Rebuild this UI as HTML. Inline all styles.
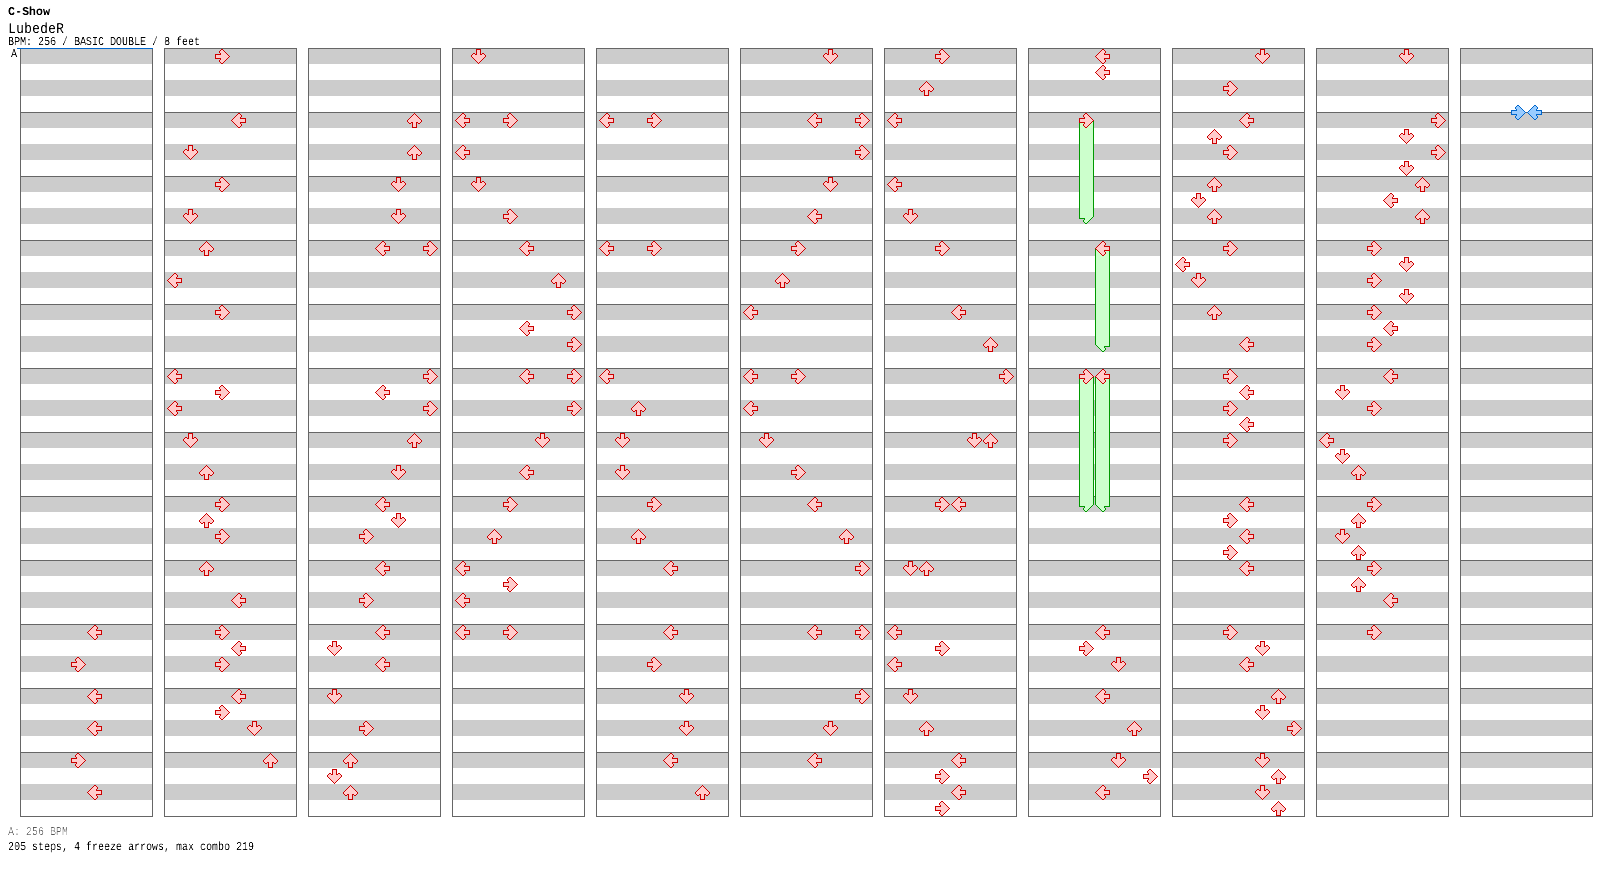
<!DOCTYPE html>
<html><head><meta charset="utf-8"><title>C-Show</title><style>
html,body{margin:0;padding:0;background:#fff;}
body{width:1616px;height:876px;overflow:hidden;position:relative;}
.t{position:absolute;left:0;font-family:"Liberation Mono","DejaVu Sans Mono",monospace;white-space:pre;color:#000;transform-origin:0 0;line-height:1;margin:0;will-change:transform;text-rendering:geometricPrecision;background:#fff;filter:contrast(1.6);}
.t1{font-size:12px;font-weight:bold;top:6px;left:8px;transform:scaleX(0.972);}
.t2{font-size:15px;top:22px;left:8px;transform:scaleX(0.889);}
.t3{font-size:12px;top:36px;left:8px;transform:scaleX(0.8333);}
.t4{font-size:12px;top:48px;left:11px;transform:scaleX(0.8333);}
.t5{font-size:12px;top:826px;left:8px;transform:scaleX(0.8333);color:#666;}
.t6{font-size:12px;top:841px;left:8px;transform:scaleX(0.8333);}
.col{position:absolute;top:48px;width:133px;height:769px;
background:repeating-linear-gradient(to bottom,#666 0 1px,transparent 1px 64px),repeating-linear-gradient(to bottom,#ccc 0 16px,#fff 16px 32px);
box-shadow:inset 0 0 0 1px #666;}
.bl{position:absolute;left:17px;top:48px;width:136px;height:1px;background:#0066cc;}
svg.ov{position:absolute;left:0;top:0;}
</style></head><body>
<div class="t t1">C-Show</div>
<div class="t t2">LubedeR</div>
<div class="t t3">BPM: 256 / BASIC DOUBLE / 8 feet</div>
<div class="col" style="left:20px"></div><div class="col" style="left:164px"></div><div class="col" style="left:308px"></div><div class="col" style="left:452px"></div><div class="col" style="left:596px"></div><div class="col" style="left:740px"></div><div class="col" style="left:884px"></div><div class="col" style="left:1028px"></div><div class="col" style="left:1172px"></div><div class="col" style="left:1316px"></div><div class="col" style="left:1460px"></div>
<div class="bl"></div>
<div class="t t4">A</div>
<svg class="ov" width="1616" height="876" viewBox="0 0 1616 876" shape-rendering="crispEdges"><defs><symbol id="aL" viewBox="0 0 16 16" width="16" height="16"><path fill="#ffcccc" d="M8 2h2v1h-2zM7 3h4v1h-4zM6 4h5v1h-5zM5 5h5v1h-5zM4 6h6v1h-6zM3 7h12v1h-12zM2 8h13v1h-13zM3 9h12v1h-12zM4 10h6v1h-6zM5 11h5v1h-5zM6 12h5v1h-5zM7 13h4v1h-4zM8 14h2v1h-2z"/><path fill="#cc0000" d="M8 1h2v1h-2zM7 2h1v1h-1zM10 2h1v1h-1zM6 3h1v1h-1zM11 3h1v1h-1zM5 4h1v1h-1zM11 4h1v1h-1zM4 5h1v1h-1zM10 5h1v1h-1zM3 6h1v1h-1zM10 6h6v1h-6zM2 7h1v1h-1zM15 7h1v1h-1zM1 8h1v1h-1zM15 8h1v1h-1zM2 9h1v1h-1zM15 9h1v1h-1zM3 10h1v1h-1zM10 10h6v1h-6zM4 11h1v1h-1zM10 11h1v1h-1zM5 12h1v1h-1zM11 12h1v1h-1zM6 13h1v1h-1zM11 13h1v1h-1zM7 14h1v1h-1zM10 14h1v1h-1zM8 15h2v1h-2z"/></symbol><symbol id="aD" viewBox="0 0 16 16" width="16" height="16"><path fill="#ffcccc" d="M7 2h3v1h-3zM7 3h3v1h-3zM7 4h3v1h-3zM7 5h3v1h-3zM3 6h2v1h-2zM7 6h3v1h-3zM12 6h2v1h-2zM2 7h13v1h-13zM2 8h13v1h-13zM3 9h11v1h-11zM4 10h9v1h-9zM5 11h7v1h-7zM6 12h5v1h-5zM7 13h3v1h-3zM8 14h1v1h-1z"/><path fill="#cc0000" d="M6 1h5v1h-5zM6 2h1v1h-1zM10 2h1v1h-1zM6 3h1v1h-1zM10 3h1v1h-1zM6 4h1v1h-1zM10 4h1v1h-1zM3 5h2v1h-2zM6 5h1v1h-1zM10 5h1v1h-1zM12 5h2v1h-2zM2 6h1v1h-1zM5 6h2v1h-2zM10 6h2v1h-2zM14 6h1v1h-1zM1 7h1v1h-1zM15 7h1v1h-1zM1 8h1v1h-1zM15 8h1v1h-1zM2 9h1v1h-1zM14 9h1v1h-1zM3 10h1v1h-1zM13 10h1v1h-1zM4 11h1v1h-1zM12 11h1v1h-1zM5 12h1v1h-1zM11 12h1v1h-1zM6 13h1v1h-1zM10 13h1v1h-1zM7 14h1v1h-1zM9 14h1v1h-1zM8 15h1v1h-1z"/></symbol><symbol id="aU" viewBox="0 0 16 16" width="16" height="16"><path fill="#ffcccc" d="M8 2h1v1h-1zM7 3h3v1h-3zM6 4h5v1h-5zM5 5h7v1h-7zM4 6h9v1h-9zM3 7h11v1h-11zM2 8h13v1h-13zM2 9h13v1h-13zM3 10h2v1h-2zM7 10h3v1h-3zM12 10h2v1h-2zM7 11h3v1h-3zM7 12h3v1h-3zM7 13h3v1h-3zM7 14h3v1h-3z"/><path fill="#cc0000" d="M8 1h1v1h-1zM7 2h1v1h-1zM9 2h1v1h-1zM6 3h1v1h-1zM10 3h1v1h-1zM5 4h1v1h-1zM11 4h1v1h-1zM4 5h1v1h-1zM12 5h1v1h-1zM3 6h1v1h-1zM13 6h1v1h-1zM2 7h1v1h-1zM14 7h1v1h-1zM1 8h1v1h-1zM15 8h1v1h-1zM1 9h1v1h-1zM15 9h1v1h-1zM2 10h1v1h-1zM5 10h2v1h-2zM10 10h2v1h-2zM14 10h1v1h-1zM3 11h2v1h-2zM6 11h1v1h-1zM10 11h1v1h-1zM12 11h2v1h-2zM6 12h1v1h-1zM10 12h1v1h-1zM6 13h1v1h-1zM10 13h1v1h-1zM6 14h1v1h-1zM10 14h1v1h-1zM6 15h5v1h-5z"/></symbol><symbol id="aR" viewBox="0 0 16 16" width="16" height="16"><path fill="#ffcccc" d="M7 2h2v1h-2zM6 3h4v1h-4zM6 4h5v1h-5zM7 5h5v1h-5zM7 6h6v1h-6zM2 7h12v1h-12zM2 8h13v1h-13zM2 9h12v1h-12zM7 10h6v1h-6zM7 11h5v1h-5zM6 12h5v1h-5zM6 13h4v1h-4zM7 14h2v1h-2z"/><path fill="#cc0000" d="M7 1h2v1h-2zM6 2h1v1h-1zM9 2h1v1h-1zM5 3h1v1h-1zM10 3h1v1h-1zM5 4h1v1h-1zM11 4h1v1h-1zM6 5h1v1h-1zM12 5h1v1h-1zM1 6h6v1h-6zM13 6h1v1h-1zM1 7h1v1h-1zM14 7h1v1h-1zM1 8h1v1h-1zM15 8h1v1h-1zM1 9h1v1h-1zM14 9h1v1h-1zM1 10h6v1h-6zM13 10h1v1h-1zM6 11h1v1h-1zM12 11h1v1h-1zM5 12h1v1h-1zM11 12h1v1h-1zM5 13h1v1h-1zM10 13h1v1h-1zM6 14h1v1h-1zM9 14h1v1h-1zM7 15h2v1h-2z"/></symbol><symbol id="bL" viewBox="0 0 16 16" width="16" height="16"><path fill="#99ccff" d="M8 2h2v1h-2zM7 3h4v1h-4zM6 4h5v1h-5zM5 5h5v1h-5zM4 6h6v1h-6zM3 7h12v1h-12zM2 8h13v1h-13zM3 9h12v1h-12zM4 10h6v1h-6zM5 11h5v1h-5zM6 12h5v1h-5zM7 13h4v1h-4zM8 14h2v1h-2z"/><path fill="#0066cc" d="M8 1h2v1h-2zM7 2h1v1h-1zM10 2h1v1h-1zM6 3h1v1h-1zM11 3h1v1h-1zM5 4h1v1h-1zM11 4h1v1h-1zM4 5h1v1h-1zM10 5h1v1h-1zM3 6h1v1h-1zM10 6h6v1h-6zM2 7h1v1h-1zM15 7h1v1h-1zM1 8h1v1h-1zM15 8h1v1h-1zM2 9h1v1h-1zM15 9h1v1h-1zM3 10h1v1h-1zM10 10h6v1h-6zM4 11h1v1h-1zM10 11h1v1h-1zM5 12h1v1h-1zM11 12h1v1h-1zM6 13h1v1h-1zM11 13h1v1h-1zM7 14h1v1h-1zM10 14h1v1h-1zM8 15h2v1h-2z"/></symbol><symbol id="bR" viewBox="0 0 16 16" width="16" height="16"><path fill="#99ccff" d="M7 2h2v1h-2zM6 3h4v1h-4zM6 4h5v1h-5zM7 5h5v1h-5zM7 6h6v1h-6zM2 7h12v1h-12zM2 8h13v1h-13zM2 9h12v1h-12zM7 10h6v1h-6zM7 11h5v1h-5zM6 12h5v1h-5zM6 13h4v1h-4zM7 14h2v1h-2z"/><path fill="#0066cc" d="M7 1h2v1h-2zM6 2h1v1h-1zM9 2h1v1h-1zM5 3h1v1h-1zM10 3h1v1h-1zM5 4h1v1h-1zM11 4h1v1h-1zM6 5h1v1h-1zM12 5h1v1h-1zM1 6h6v1h-6zM13 6h1v1h-1zM1 7h1v1h-1zM14 7h1v1h-1zM1 8h1v1h-1zM15 8h1v1h-1zM1 9h1v1h-1zM14 9h1v1h-1zM1 10h6v1h-6zM13 10h1v1h-1zM6 11h1v1h-1zM12 11h1v1h-1zM5 12h1v1h-1zM11 12h1v1h-1zM5 13h1v1h-1zM10 13h1v1h-1zM6 14h1v1h-1zM9 14h1v1h-1zM7 15h2v1h-2z"/></symbol></defs><rect x="1079" y="120" width="15" height="96" fill="#009900"/><rect x="1080" y="120" width="13" height="96" fill="#ccffcc"/><path fill="#ccffcc" d="M1080 216h13v1h-13zM1080 217h12v1h-12zM1085 218h6v1h-6zM1085 219h5v1h-5zM1084 220h5v1h-5zM1084 221h4v1h-4zM1085 222h2v1h-2z"/><path fill="#009900" d="M1079 216h1v1h-1zM1093 216h1v1h-1zM1079 217h1v1h-1zM1092 217h1v1h-1zM1079 218h6v1h-6zM1091 218h1v1h-1zM1084 219h1v1h-1zM1090 219h1v1h-1zM1083 220h1v1h-1zM1089 220h1v1h-1zM1083 221h1v1h-1zM1088 221h1v1h-1zM1084 222h1v1h-1zM1087 222h1v1h-1zM1085 223h2v1h-2z"/><rect x="1095" y="248" width="15" height="96" fill="#009900"/><rect x="1096" y="248" width="13" height="96" fill="#ccffcc"/><path fill="#ccffcc" d="M1096 344h13v1h-13zM1097 345h12v1h-12zM1098 346h6v1h-6zM1099 347h5v1h-5zM1100 348h5v1h-5zM1101 349h4v1h-4zM1102 350h2v1h-2z"/><path fill="#009900" d="M1095 344h1v1h-1zM1109 344h1v1h-1zM1096 345h1v1h-1zM1109 345h1v1h-1zM1097 346h1v1h-1zM1104 346h6v1h-6zM1098 347h1v1h-1zM1104 347h1v1h-1zM1099 348h1v1h-1zM1105 348h1v1h-1zM1100 349h1v1h-1zM1105 349h1v1h-1zM1101 350h1v1h-1zM1104 350h1v1h-1zM1102 351h2v1h-2z"/><rect x="1079" y="376" width="15" height="128" fill="#009900"/><rect x="1080" y="376" width="13" height="128" fill="#ccffcc"/><path fill="#ccffcc" d="M1080 504h13v1h-13zM1080 505h12v1h-12zM1085 506h6v1h-6zM1085 507h5v1h-5zM1084 508h5v1h-5zM1084 509h4v1h-4zM1085 510h2v1h-2z"/><path fill="#009900" d="M1079 504h1v1h-1zM1093 504h1v1h-1zM1079 505h1v1h-1zM1092 505h1v1h-1zM1079 506h6v1h-6zM1091 506h1v1h-1zM1084 507h1v1h-1zM1090 507h1v1h-1zM1083 508h1v1h-1zM1089 508h1v1h-1zM1083 509h1v1h-1zM1088 509h1v1h-1zM1084 510h1v1h-1zM1087 510h1v1h-1zM1085 511h2v1h-2z"/><rect x="1095" y="376" width="15" height="128" fill="#009900"/><rect x="1096" y="376" width="13" height="128" fill="#ccffcc"/><path fill="#ccffcc" d="M1096 504h13v1h-13zM1097 505h12v1h-12zM1098 506h6v1h-6zM1099 507h5v1h-5zM1100 508h5v1h-5zM1101 509h4v1h-4zM1102 510h2v1h-2z"/><path fill="#009900" d="M1095 504h1v1h-1zM1109 504h1v1h-1zM1096 505h1v1h-1zM1109 505h1v1h-1zM1097 506h1v1h-1zM1104 506h6v1h-6zM1098 507h1v1h-1zM1104 507h1v1h-1zM1099 508h1v1h-1zM1105 508h1v1h-1zM1100 509h1v1h-1zM1105 509h1v1h-1zM1101 510h1v1h-1zM1104 510h1v1h-1zM1102 511h2v1h-2z"/><use href="#aL" x="86" y="624"/><use href="#aR" x="70" y="656"/><use href="#aL" x="86" y="688"/><use href="#aL" x="86" y="720"/><use href="#aR" x="70" y="752"/><use href="#aL" x="86" y="784"/><use href="#aR" x="214" y="48"/><use href="#aL" x="230" y="112"/><use href="#aD" x="182" y="144"/><use href="#aR" x="214" y="176"/><use href="#aD" x="182" y="208"/><use href="#aU" x="198" y="240"/><use href="#aL" x="166" y="272"/><use href="#aR" x="214" y="304"/><use href="#aL" x="166" y="368"/><use href="#aR" x="214" y="384"/><use href="#aL" x="166" y="400"/><use href="#aD" x="182" y="432"/><use href="#aU" x="198" y="464"/><use href="#aR" x="214" y="496"/><use href="#aU" x="198" y="512"/><use href="#aR" x="214" y="528"/><use href="#aU" x="198" y="560"/><use href="#aL" x="230" y="592"/><use href="#aR" x="214" y="624"/><use href="#aL" x="230" y="640"/><use href="#aR" x="214" y="656"/><use href="#aL" x="230" y="688"/><use href="#aR" x="214" y="704"/><use href="#aD" x="246" y="720"/><use href="#aU" x="262" y="752"/><use href="#aU" x="406" y="112"/><use href="#aU" x="406" y="144"/><use href="#aD" x="390" y="176"/><use href="#aD" x="390" y="208"/><use href="#aL" x="374" y="240"/><use href="#aR" x="422" y="240"/><use href="#aR" x="422" y="368"/><use href="#aL" x="374" y="384"/><use href="#aR" x="422" y="400"/><use href="#aU" x="406" y="432"/><use href="#aD" x="390" y="464"/><use href="#aL" x="374" y="496"/><use href="#aD" x="390" y="512"/><use href="#aR" x="358" y="528"/><use href="#aL" x="374" y="560"/><use href="#aR" x="358" y="592"/><use href="#aL" x="374" y="624"/><use href="#aD" x="326" y="640"/><use href="#aL" x="374" y="656"/><use href="#aD" x="326" y="688"/><use href="#aR" x="358" y="720"/><use href="#aU" x="342" y="752"/><use href="#aD" x="326" y="768"/><use href="#aU" x="342" y="784"/><use href="#aD" x="470" y="48"/><use href="#aL" x="454" y="112"/><use href="#aR" x="502" y="112"/><use href="#aL" x="454" y="144"/><use href="#aD" x="470" y="176"/><use href="#aR" x="502" y="208"/><use href="#aL" x="518" y="240"/><use href="#aU" x="550" y="272"/><use href="#aR" x="566" y="304"/><use href="#aL" x="518" y="320"/><use href="#aR" x="566" y="336"/><use href="#aL" x="518" y="368"/><use href="#aR" x="566" y="368"/><use href="#aR" x="566" y="400"/><use href="#aD" x="534" y="432"/><use href="#aL" x="518" y="464"/><use href="#aR" x="502" y="496"/><use href="#aU" x="486" y="528"/><use href="#aL" x="454" y="560"/><use href="#aR" x="502" y="576"/><use href="#aL" x="454" y="592"/><use href="#aL" x="454" y="624"/><use href="#aR" x="502" y="624"/><use href="#aL" x="598" y="112"/><use href="#aR" x="646" y="112"/><use href="#aL" x="598" y="240"/><use href="#aR" x="646" y="240"/><use href="#aL" x="598" y="368"/><use href="#aU" x="630" y="400"/><use href="#aD" x="614" y="432"/><use href="#aD" x="614" y="464"/><use href="#aR" x="646" y="496"/><use href="#aU" x="630" y="528"/><use href="#aL" x="662" y="560"/><use href="#aL" x="662" y="624"/><use href="#aR" x="646" y="656"/><use href="#aD" x="678" y="688"/><use href="#aD" x="678" y="720"/><use href="#aL" x="662" y="752"/><use href="#aU" x="694" y="784"/><use href="#aD" x="822" y="48"/><use href="#aL" x="806" y="112"/><use href="#aR" x="854" y="112"/><use href="#aR" x="854" y="144"/><use href="#aD" x="822" y="176"/><use href="#aL" x="806" y="208"/><use href="#aR" x="790" y="240"/><use href="#aU" x="774" y="272"/><use href="#aL" x="742" y="304"/><use href="#aL" x="742" y="368"/><use href="#aR" x="790" y="368"/><use href="#aL" x="742" y="400"/><use href="#aD" x="758" y="432"/><use href="#aR" x="790" y="464"/><use href="#aL" x="806" y="496"/><use href="#aU" x="838" y="528"/><use href="#aR" x="854" y="560"/><use href="#aL" x="806" y="624"/><use href="#aR" x="854" y="624"/><use href="#aR" x="854" y="688"/><use href="#aD" x="822" y="720"/><use href="#aL" x="806" y="752"/><use href="#aR" x="934" y="48"/><use href="#aU" x="918" y="80"/><use href="#aL" x="886" y="112"/><use href="#aL" x="886" y="176"/><use href="#aD" x="902" y="208"/><use href="#aR" x="934" y="240"/><use href="#aL" x="950" y="304"/><use href="#aU" x="982" y="336"/><use href="#aR" x="998" y="368"/><use href="#aD" x="966" y="432"/><use href="#aU" x="982" y="432"/><use href="#aR" x="934" y="496"/><use href="#aL" x="950" y="496"/><use href="#aD" x="902" y="560"/><use href="#aU" x="918" y="560"/><use href="#aL" x="886" y="624"/><use href="#aR" x="934" y="640"/><use href="#aL" x="886" y="656"/><use href="#aD" x="902" y="688"/><use href="#aU" x="918" y="720"/><use href="#aL" x="950" y="752"/><use href="#aR" x="934" y="768"/><use href="#aL" x="950" y="784"/><use href="#aR" x="934" y="800"/><use href="#aL" x="1094" y="48"/><use href="#aL" x="1094" y="64"/><use href="#aR" x="1078" y="112"/><use href="#aL" x="1094" y="240"/><use href="#aR" x="1078" y="368"/><use href="#aL" x="1094" y="368"/><use href="#aL" x="1094" y="624"/><use href="#aR" x="1078" y="640"/><use href="#aD" x="1110" y="656"/><use href="#aL" x="1094" y="688"/><use href="#aU" x="1126" y="720"/><use href="#aD" x="1110" y="752"/><use href="#aR" x="1142" y="768"/><use href="#aL" x="1094" y="784"/><use href="#aD" x="1254" y="48"/><use href="#aR" x="1222" y="80"/><use href="#aL" x="1238" y="112"/><use href="#aU" x="1206" y="128"/><use href="#aR" x="1222" y="144"/><use href="#aU" x="1206" y="176"/><use href="#aD" x="1190" y="192"/><use href="#aU" x="1206" y="208"/><use href="#aR" x="1222" y="240"/><use href="#aL" x="1174" y="256"/><use href="#aD" x="1190" y="272"/><use href="#aU" x="1206" y="304"/><use href="#aL" x="1238" y="336"/><use href="#aR" x="1222" y="368"/><use href="#aL" x="1238" y="384"/><use href="#aR" x="1222" y="400"/><use href="#aL" x="1238" y="416"/><use href="#aR" x="1222" y="432"/><use href="#aL" x="1238" y="496"/><use href="#aR" x="1222" y="512"/><use href="#aL" x="1238" y="528"/><use href="#aR" x="1222" y="544"/><use href="#aL" x="1238" y="560"/><use href="#aR" x="1222" y="624"/><use href="#aD" x="1254" y="640"/><use href="#aL" x="1238" y="656"/><use href="#aU" x="1270" y="688"/><use href="#aD" x="1254" y="704"/><use href="#aR" x="1286" y="720"/><use href="#aD" x="1254" y="752"/><use href="#aU" x="1270" y="768"/><use href="#aD" x="1254" y="784"/><use href="#aU" x="1270" y="800"/><use href="#aD" x="1398" y="48"/><use href="#aR" x="1430" y="112"/><use href="#aD" x="1398" y="128"/><use href="#aR" x="1430" y="144"/><use href="#aD" x="1398" y="160"/><use href="#aU" x="1414" y="176"/><use href="#aL" x="1382" y="192"/><use href="#aU" x="1414" y="208"/><use href="#aR" x="1366" y="240"/><use href="#aD" x="1398" y="256"/><use href="#aR" x="1366" y="272"/><use href="#aD" x="1398" y="288"/><use href="#aR" x="1366" y="304"/><use href="#aL" x="1382" y="320"/><use href="#aR" x="1366" y="336"/><use href="#aL" x="1382" y="368"/><use href="#aD" x="1334" y="384"/><use href="#aR" x="1366" y="400"/><use href="#aL" x="1318" y="432"/><use href="#aD" x="1334" y="448"/><use href="#aU" x="1350" y="464"/><use href="#aR" x="1366" y="496"/><use href="#aU" x="1350" y="512"/><use href="#aD" x="1334" y="528"/><use href="#aU" x="1350" y="544"/><use href="#aR" x="1366" y="560"/><use href="#aU" x="1350" y="576"/><use href="#aL" x="1382" y="592"/><use href="#aR" x="1366" y="624"/><use href="#bR" x="1510" y="104"/><use href="#bL" x="1526" y="104"/></svg>
<div class="t t5">A: 256 BPM</div>
<div class="t t6">205 steps, 4 freeze arrows, max combo 219</div>
</body></html>
